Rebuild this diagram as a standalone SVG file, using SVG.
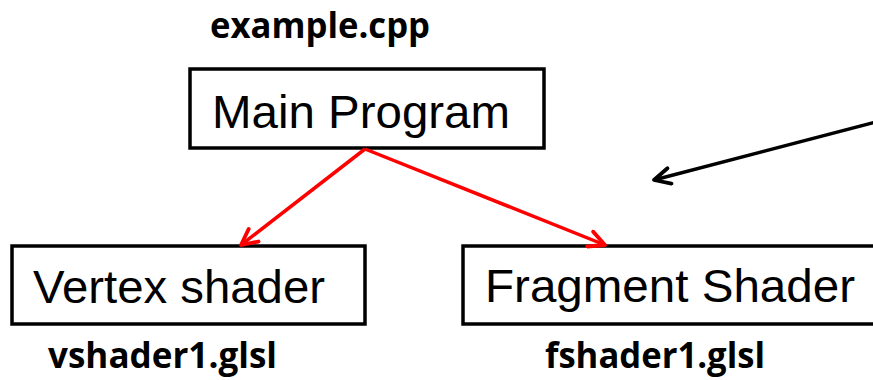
<svg xmlns="http://www.w3.org/2000/svg" width="873" height="380" viewBox="0 0 873 380">
<defs>
<style>
.box{fill:#fff;stroke:#000;stroke-width:3.5}
.main{font-family:"Liberation Sans",Arial,sans-serif;font-size:47px;fill:#000}
.file{font-family:"Open Sans","Liberation Sans",sans-serif;font-weight:bold;font-size:35px;fill:#000}
.red{stroke:#ff0000;stroke-width:3.5;fill:none}
.blk{stroke:#000;stroke-width:3.5;fill:none}
</style>
<marker id="ar" viewBox="-20 -10 24 20" refX="0" refY="0" markerWidth="24" markerHeight="20" markerUnits="userSpaceOnUse" orient="auto">
<path d="M-16,-8 L0,0 L-16,8" fill="none" stroke="#ff0000" stroke-width="3.8" stroke-linecap="round" stroke-linejoin="round"/>
</marker>
<marker id="ak" viewBox="-20 -10 24 20" refX="0" refY="0" markerWidth="24" markerHeight="20" markerUnits="userSpaceOnUse" orient="auto">
<path d="M-16,-8 L0,0 L-16,8" fill="none" stroke="#000" stroke-width="3.8" stroke-linecap="round" stroke-linejoin="round"/>
</marker>
</defs>
<rect width="873" height="380" fill="#fff"/>
<g id="main">
<rect class="box" x="190" y="69" width="354" height="79"/>
<text class="main" x="212" y="128" textLength="298" lengthAdjust="spacingAndGlyphs">Main Program</text>
<text class="file" x="210" y="38" textLength="220" lengthAdjust="spacingAndGlyphs">example.cpp</text>
</g>
<g id="vertex">
<rect class="box" x="12" y="246" width="353" height="78"/>
<text class="main" x="33" y="303" textLength="292" lengthAdjust="spacingAndGlyphs">Vertex shader</text>
<text class="file" x="48" y="368" textLength="229" lengthAdjust="spacingAndGlyphs">vshader1.glsl</text>
</g>
<g id="fragment">
<rect class="box" x="463" y="246" width="420" height="78"/>
<text class="main" x="485" y="302" textLength="370" lengthAdjust="spacingAndGlyphs">Fragment Shader</text>
<text class="file" x="545" y="368" textLength="220" lengthAdjust="spacingAndGlyphs">fshader1.glsl</text>
</g>
<g id="connectors">
<line class="red" x1="365" y1="149" x2="241" y2="245" marker-end="url(#ar)"/>
<line class="red" x1="365" y1="149" x2="605" y2="245" marker-end="url(#ar)"/>
<line class="blk" x1="876" y1="122" x2="654" y2="180" marker-end="url(#ak)"/>
</g>
</svg>
